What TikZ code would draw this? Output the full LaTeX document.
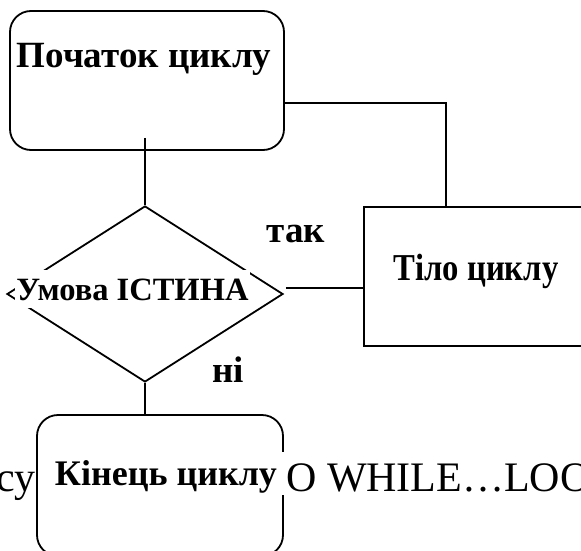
\documentclass[tikz,border=0pt]{standalone}
\usepackage{fontspec}
\usepackage{graphicx}
\setmainfont{Liberation Serif}
\usetikzlibrary{shapes.geometric}

\tikzset{
  flow/.style={line width=1.8pt},
  roundbox/.style={draw, fill=white, line width=1.8pt, rounded corners=21pt, inner sep=0pt},
  plainbox/.style={draw, fill=white, line width=1.8pt, inner sep=0pt},
  decision/.style={diamond, draw, fill=white, line width=1.8pt, inner sep=0pt, aspect=1},
  boldtxt/.style={anchor=base, inner sep=0pt, font=\fontsize{37}{40}\selectfont\bfseries},
  runtxt/.style={inner sep=0pt, font=\fontsize{42}{46}\selectfont}
}

\begin{document}
\begin{tikzpicture}[x=1pt,y=-1pt]
\useasboundingbox (0,0) rectangle (581,551);
\clip (0,0) rectangle (581,551);

% running text of the page behind the chart
\node[runtxt, anchor=base east] (txtLeft) at (36,491) {су};
\node[runtxt, anchor=base west] (txtRight) at (286,491) {O WHILE…LOO};

% start of the loop
\node[roundbox, minimum width=274pt, minimum height=139pt] (start) at (147,80.5) {};
\node[boldtxt] (startTxt) at (144,67) {Початок циклу};

% condition
\node[decision, minimum width=276pt, minimum height=176pt] (dia) at (145,294) {};
\node[boldtxt, fill=white, text height=26pt, text depth=4pt, inner ysep=4pt,
      minimum width=235pt, font=\fontsize{32.5}{34}\selectfont\bfseries] (diaTxt)
      at (132.5,300) {Умова ІСТИНА};

% loop body
\node[plainbox, minimum width=220pt, minimum height=139pt] (body) at (474,276.5) {};
\node[boldtxt, font=\fontsize{38}{40}\selectfont\bfseries] (bodyTxt) at (476,280)
      {\scalebox{0.86}[1]{Тіло циклу}};

% end of the loop
\node[roundbox, minimum width=246pt, minimum height=141pt] (stop) at (160,485.5) {};
\node[boldtxt, fill=white, text height=29pt, text depth=6pt, inner ysep=4pt,
      minimum width=241pt, font=\fontsize{36}{38}\selectfont\bfseries] (stopTxt)
      at (166,485) {Кінець циклу};

% branch labels
\node[boldtxt] (yesTxt) at (296,242) {так};
\node[boldtxt] (noTxt) at (228,382) {ні};

% connectors
\draw[flow] ([yshift=13pt]dia.north |- start.south) -- (dia.north);
\draw[flow] ([yshift=-22.5pt]start.east) -| ([xshift=-28pt]body.north);
\draw[flow] ([shift={(2pt,6pt)}]dia.east) -- ([shift={(2pt,6pt)}]dia.east -| body.west);
\draw[flow] (dia.south) -- (dia.south |- stop.north);
\end{tikzpicture}
\end{document}
